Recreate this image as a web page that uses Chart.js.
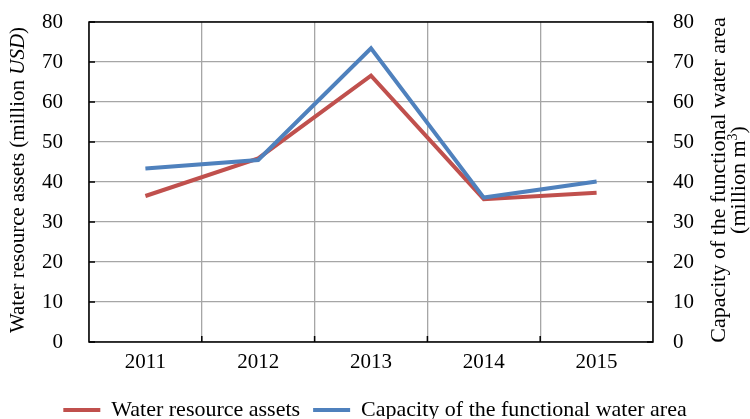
<!DOCTYPE html>
<html>
<head>
<meta charset="utf-8">
<script src="https://cdn.jsdelivr.net/npm/chart.js@4"></script>
<style>
  html, body { margin: 0; padding: 0; background: #fff; }
  #wrap { width: 750px; height: 419px; }
</style>
</head>
<body>
<div id="wrap"><canvas id="chart"></canvas></div>
<script>
const years = ['2011', '2012', '2013', '2014', '2015'];
const assets = [36.5, 45.9, 66.6, 35.7, 37.3];
const capacity = [43.4, 45.5, 73.4, 36.1, 40.1];
const yTicks = [0, 10, 20, 30, 40, 50, 60, 70, 80];

const FONT = 'Liberation Serif';
const RED = '#C0504D';
const BLUE = '#4F81BD';

// frame, inner tick marks and axis titles
const framePlugin = {
  id: 'frame',
  afterDatasetsDraw(chart) {
    const { ctx, chartArea: a, scales } = chart;
    ctx.save();
    ctx.strokeStyle = '#000';
    ctx.lineWidth = 1.5;
    ctx.strokeRect(a.left, a.top, a.right - a.left, a.bottom - a.top);
    ctx.beginPath();
    scales.y.ticks.forEach(t => {
      const py = scales.y.getPixelForValue(t.value);
      ctx.moveTo(a.left, py); ctx.lineTo(a.left + 6, py);
      ctx.moveTo(a.right, py); ctx.lineTo(a.right - 6, py);
    });
    const step = scales.x.getPixelForValue(1) - scales.x.getPixelForValue(0);
    for (let i = 1; i < years.length; i++) {
      const px = scales.x.getPixelForValue(i) - step / 2;
      ctx.moveTo(px, a.bottom); ctx.lineTo(px, a.bottom - 6);
    }
    ctx.stroke();

    ctx.fillStyle = '#000';
    ctx.textBaseline = 'middle';
    const cy = (a.top + a.bottom) / 2 - 2;
    const drawParts = (parts, x) => {
      let total = 0;
      parts.forEach(p => { ctx.font = p.font; p.w = ctx.measureText(p.text).width; total += p.w; });
      ctx.save();
      ctx.translate(x, cy);
      ctx.rotate(-Math.PI / 2);
      let cx = -total / 2;
      parts.forEach(p => {
        ctx.font = p.font;
        ctx.textAlign = 'left';
        ctx.fillText(p.text, cx, p.dy || 0);
        cx += p.w;
      });
      ctx.restore();
    };
    const reg = '22px "' + FONT + '"';
    const sup = '14px "' + FONT + '"';
    drawParts([
      { text: 'Water resource assets (million ', font: '21px "' + FONT + '"' },
      { text: 'USD', font: 'italic 21px "' + FONT + '"' },
      { text: ')', font: '21px "' + FONT + '"' }
    ], 18);
    drawParts([{ text: 'Capacity of the functional water area', font: reg }], 719);
    drawParts([
      { text: '(million m', font: reg },
      { text: '3', font: sup, dy: -6 },
      { text: ')', font: reg }
    ], 739);
    ctx.restore();
  }
};

const fitY = w => s => {
  s.width = w;
  s.paddingTop = 0;
  s.paddingBottom = 0;
};

new Chart(document.getElementById('chart'), {
  type: 'line',
  data: {
    labels: years,
    datasets: [
      {
        label: 'Water resource assets',
        data: assets,
        borderColor: RED,
        backgroundColor: RED,
        borderWidth: 4,
        pointRadius: 0,
        tension: 0,
        yAxisID: 'y',
        order: 1
      },
      {
        label: 'Capacity of the functional water area',
        data: capacity,
        borderColor: BLUE,
        backgroundColor: BLUE,
        borderWidth: 4,
        pointRadius: 0,
        tension: 0,
        yAxisID: 'y2',
        order: 0
      }
    ]
  },
  options: {
    responsive: true,
    maintainAspectRatio: false,
    animation: false,
    layout: { padding: { top: 22, bottom: -12 } },
    plugins: {
      legend: {
        position: 'bottom',
        labels: {
          usePointStyle: true,
          pointStyle: 'line',
          pointStyleWidth: 37,
          color: '#000',
          padding: 13,
          font: { family: FONT, size: 22 },
          sort: (a, b) => a.datasetIndex - b.datasetIndex
        }
      },
      tooltip: { enabled: false }
    },
    scales: {
      x: {
        offset: true,
        grid: { offset: true, color: '#a6a6a6', lineWidth: 1.3, drawTicks: false },
        border: { display: false },
        ticks: { color: '#000', padding: 8, font: { family: FONT, size: 21 } },
        afterFit: s => { s.height = 44; }
      },
      y: {
        position: 'left',
        min: 0,
        max: 80,
        afterBuildTicks: s => { s.ticks = yTicks.map(v => ({ value: v })); },
        grid: { color: '#a6a6a6', lineWidth: 1.3, drawTicks: false },
        border: { display: false },
        ticks: { color: '#000', padding: 26, font: { family: FONT, size: 21 } },
        afterFit: fitY(89)
      },
      y2: {
        position: 'right',
        min: 0,
        max: 80,
        afterBuildTicks: s => { s.ticks = yTicks.map(v => ({ value: v })); },
        grid: { drawOnChartArea: false, drawTicks: false },
        border: { display: false },
        ticks: { color: '#000', padding: 20, font: { family: FONT, size: 21 } },
        afterFit: fitY(97)
      }
    }
  },
  plugins: [framePlugin]
});
</script>
</body>
</html>
